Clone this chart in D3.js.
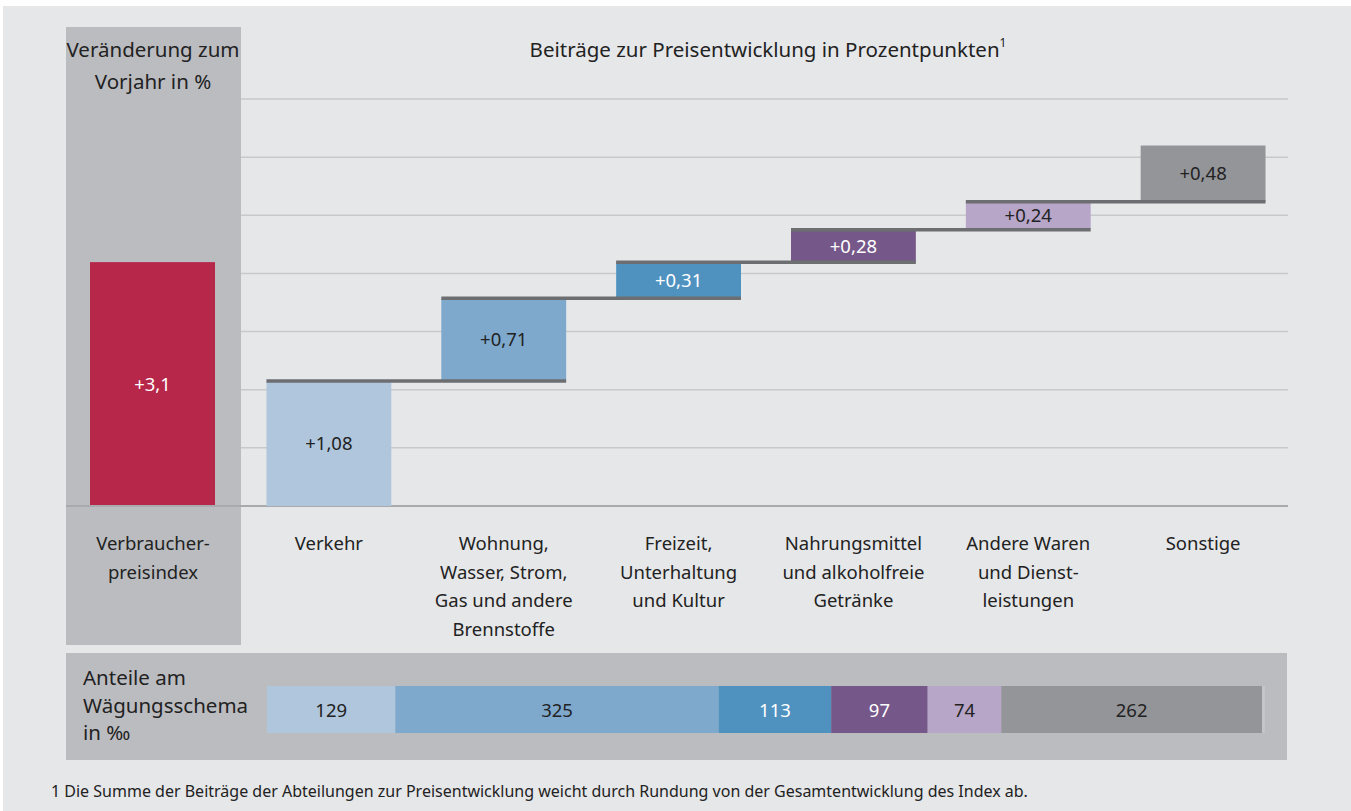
<!DOCTYPE html>
<html>
<head>
<meta charset="utf-8">
<script src="https://cdn.jsdelivr.net/npm/d3@7"></script>
<style>
  body { margin: 0; background: #fff; }
  svg { display: block; font-family: "Noto Sans", "Open Sans", sans-serif; }
</style>
</head>
<body>
<svg id="chart" width="1351" height="811"></svg>
<script>
// data
const categories = ["Verkehr", "Wohnung,\nWasser, Strom,\nGas und andere\nBrennstoffe", "Freizeit,\nUnterhaltung\nund Kultur",
  "Nahrungsmittel\nund alkoholfreie\nGetränke", "Andere Waren\nund Dienst-\nleistungen", "Sonstige"];
const contributions = [1.08, 0.71, 0.31, 0.28, 0.24, 0.48];
const contributionLabels = ["+1,08", "+0,71", "+0,31", "+0,28", "+0,24", "+0,48"];
const weights = [129, 325, 113, 97, 74, 262];
const totalLabel = "Verbraucher-\npreisindex";
const totalValue = 3.1;
const totalText = "+3,1";
const gridTicks = [0, 0.5, 1, 1.5, 2, 2.5, 3, 3.5];

const colors = ["#afc6dd", "#7ea9cd", "#5092bf", "#765789", "#b8a6c8", "#949599"];
const textColors = ["#222", "#222", "#fff", "#fff", "#222", "#222"];
const weightTextColors = ["#222", "#222", "#fff", "#fff", "#222", "#222"];

const svg = d3.select("#chart");

svg.append("rect").attr("x", 3).attr("y", 6).attr("width", 1348).attr("height", 805).attr("fill", "#e6e7e9");

// left panel
svg.append("rect").attr("x", 66).attr("y", 27).attr("width", 175).attr("height", 618).attr("fill", "#bbbcc0");
// bottom panel
svg.append("rect").attr("x", 66).attr("y", 653).attr("width", 1221).attr("height", 107).attr("fill", "#bbbcc0");

const y = d3.scaleLinear().domain([0, 3.5]).range([506, 99]);
const yLeft = d3.scaleLinear().domain([0, 4.5]).range([506, 152]);
const x = d3.scaleBand().domain(d3.range(categories.length)).range([242, 1290]).paddingInner(0.286).paddingOuter(0.14);

// gridlines
svg.append("g").selectAll("line").data(gridTicks.slice(1)).enter().append("line")
  .attr("x1", 241).attr("x2", 1288)
  .attr("y1", d => y(d)).attr("y2", d => y(d))
  .attr("stroke", "#c8c9cb").attr("stroke-width", 1.5);

// cumulative
let cum = 0;
const steps = contributions.map(v => { const s = { start: cum, end: cum + v }; cum += v; return s; });

// left total bar
svg.append("rect").attr("x", 90).attr("width", 125)
  .attr("y", yLeft(totalValue)).attr("height", yLeft(0) - yLeft(totalValue))
  .attr("fill", "#b7274a");
svg.append("text").attr("x", 152.5).attr("y", (yLeft(0) + yLeft(totalValue)) / 2 + 7)
  .attr("text-anchor", "middle").attr("fill", "#fff").attr("font-size", 18.5).text(totalText);

// baseline
svg.append("line").attr("x1", 66).attr("x2", 1288).attr("y1", y(0)).attr("y2", y(0))
  .attr("stroke", "#a9aaad").attr("stroke-width", 2);

// waterfall bars
svg.append("g").selectAll("rect").data(steps).enter().append("rect")
  .attr("x", (d, i) => x(i)).attr("width", x.bandwidth())
  .attr("y", d => y(d.end)).attr("height", d => y(d.start) - y(d.end))
  .attr("fill", (d, i) => colors[i]);

// connectors: at top of bar i from bar i left to bar i+1 right
svg.append("g").selectAll("line").data(steps.slice(0, -1)).enter().append("line")
  .attr("x1", (d, i) => x(i)).attr("x2", (d, i) => x(i + 1) + x.bandwidth())
  .attr("y1", d => y(d.end) + 0.5).attr("y2", d => y(d.end) + 0.5)
  .attr("stroke", "#6d6e71").attr("stroke-width", 3.5);

svg.append("g").selectAll("text").data(steps).enter().append("text")
  .attr("x", (d, i) => x(i) + x.bandwidth() / 2)
  .attr("y", d => (y(d.start) + y(d.end)) / 2 + 7)
  .attr("text-anchor", "middle").attr("font-size", 18.5)
  .attr("fill", (d, i) => textColors[i])
  .text((d, i) => contributionLabels[i]);

// category labels
function multiline(g, str, cx, y0, lh, fs) {
  const t = g.append("text").attr("text-anchor", "middle").attr("font-size", fs).attr("fill", "#222");
  str.split("\n").forEach((s, k) => t.append("tspan").attr("x", cx).attr("y", y0 + k * lh).text(s));
}
categories.forEach((c, i) => multiline(svg, c, x(i) + x.bandwidth() / 2, 550, 28.5, 18.5));
multiline(svg, totalLabel, 153, 550, 28.5, 18.5);

// headers
const h = svg.append("text").attr("x", 768).attr("y", 57).attr("text-anchor", "middle")
  .attr("font-size", 20.5).attr("fill", "#222");
h.append("tspan").text("Beiträge zur Preisentwicklung in Prozentpunkten");
h.append("tspan").attr("font-size", 12).attr("dy", -10).text("1");
multiline(svg, "Veränderung zum\nVorjahr in %", 153, 57, 32, 20.5);

// weights bar
const xw = d3.scaleLinear().domain([0, d3.sum(weights)]).range([267, 1262]);
let wc = 0;
const wsteps = weights.map(v => { const s = { start: wc, end: wc + v, v: v }; wc += v; return s; });
svg.append("rect").attr("x", 1262).attr("y", 686).attr("width", 3).attr("height", 47).attr("fill", "#c4c5c8");
svg.append("g").selectAll("rect").data(wsteps).enter().append("rect")
  .attr("x", d => xw(d.start)).attr("width", d => xw(d.end) - xw(d.start))
  .attr("y", 686).attr("height", 47).attr("fill", (d, i) => colors[i]);
svg.append("g").selectAll("text").data(wsteps).enter().append("text")
  .attr("x", d => (xw(d.start) + xw(d.end)) / 2).attr("y", 717)
  .attr("text-anchor", "middle").attr("font-size", 18.5)
  .attr("fill", (d, i) => weightTextColors[i]).text(d => d.v);

const wl = svg.append("text").attr("font-size", 20.5).attr("fill", "#222");
["Anteile am", "Wägungsschema", "in ‰"].forEach((s, k) => wl.append("tspan").attr("x", 83).attr("y", 685 + k * 27.5).text(s));

// footnote
svg.append("text").attr("x", 51).attr("y", 797).attr("font-size", 16).attr("fill", "#222")
  .text("1 Die Summe der Beiträge der Abteilungen zur Preisentwicklung weicht durch Rundung von der Gesamtentwicklung des Index ab.");
</script>
</body>
</html>
